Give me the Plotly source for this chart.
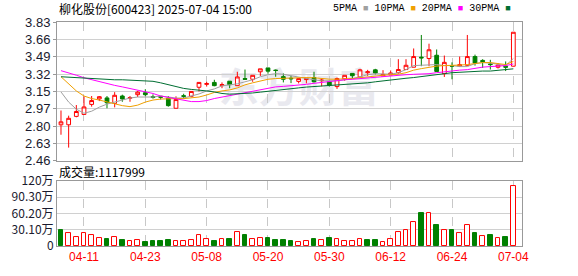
import plotly.graph_objects as go

dates = ["04-08","04-09","04-10","04-11","04-14","04-15","04-16","04-17","04-18","04-21",
         "04-22","04-23","04-24","04-25","04-28","04-29","04-30",
         "05-06","05-07","05-08","05-09","05-12","05-13","05-14","05-15","05-16","05-19",
         "05-20","05-21","05-22","05-23","05-26","05-27","05-28","05-29","05-30",
         "06-03","06-04","06-05","06-06","06-09","06-10","06-11","06-12","06-13","06-16",
         "06-17","06-18","06-19","06-20","06-23","06-24","06-25","06-26","06-27","06-30",
         "07-01","07-02","07-03","07-04"]

opens = [2.816,2.816,2.899,2.918,3.017,3.071,3.081,3.027,3.100,3.078,
         3.113,3.132,3.095,3.097,3.078,2.979,3.103,3.097,3.186,3.215,
         3.234,3.202,3.246,3.202,3.272,3.265,3.339,3.377,3.355,3.291,
         3.275,3.244,3.262,3.282,3.250,3.240,3.193,3.269,3.323,3.288,
         3.330,3.358,3.298,3.307,3.330,3.361,3.384,3.483,3.470,3.502,
         3.320,3.400,3.394,3.403,3.489,3.451,3.416,3.384,3.394,3.394]
highs = [2.957,2.906,3.011,3.097,3.100,3.100,3.100,3.138,3.113,3.100,
         3.151,3.167,3.116,3.100,3.100,3.097,3.122,3.145,3.234,3.240,
         3.260,3.234,3.246,3.339,3.361,3.304,3.368,3.377,3.361,3.323,
         3.300,3.272,3.282,3.339,3.272,3.250,3.282,3.304,3.323,3.368,
         3.358,3.368,3.355,3.352,3.463,3.463,3.569,3.702,3.616,3.559,
         3.499,3.432,3.489,3.702,3.508,3.463,3.457,3.425,3.441,3.729]
lows = [2.718,2.591,2.890,2.918,2.995,3.050,2.979,2.988,3.043,3.043,
        3.090,3.097,3.074,3.065,2.995,2.979,3.075,3.088,3.145,3.193,
        3.196,3.177,3.177,3.202,3.265,3.240,3.298,3.320,3.290,3.234,
        3.227,3.224,3.224,3.234,3.196,3.193,3.170,3.250,3.272,3.288,
        3.298,3.313,3.298,3.307,3.320,3.361,3.384,3.394,3.394,3.342,
        3.288,3.265,3.394,3.400,3.400,3.377,3.361,3.371,3.346,3.394]
closes = [2.845,2.880,2.947,2.992,3.055,3.093,3.033,3.107,3.071,3.084,
          3.138,3.113,3.086,3.088,3.005,3.065,3.097,3.145,3.234,3.222,
          3.202,3.212,3.212,3.288,3.265,3.304,3.368,3.345,3.352,3.265,
          3.270,3.272,3.272,3.240,3.256,3.205,3.272,3.304,3.300,3.358,
          3.339,3.327,3.313,3.327,3.361,3.403,3.489,3.476,3.556,3.342,
          3.432,3.394,3.409,3.489,3.425,3.438,3.410,3.406,3.384,3.729]

ma5 = [3.14,3.04,2.97,2.93,2.95,2.99,3.02,3.04,3.06,3.08,
       3.09,3.09,3.09,3.10,3.09,3.08,3.08,3.10,3.12,3.15,
       3.17,3.20,3.21,3.22,3.24,3.26,3.29,3.31,3.32,3.315,
       3.30,3.285,3.27,3.26,3.25,3.25,3.25,3.26,3.27,3.29,
       3.31,3.32,3.32,3.315,3.33,3.36,3.40,3.405,3.41,3.41,
       3.40,3.40,3.39,3.39,3.42,3.43,3.425,3.41,3.40,3.47]
ma10 = [3.29,3.22,3.15,3.10,3.075,3.06,3.04,3.02,3.005,2.995,
        3.01,3.04,3.06,3.07,3.074,3.074,3.074,3.08,3.09,3.11,
        3.135,3.15,3.16,3.18,3.21,3.23,3.25,3.265,3.272,3.276,
        3.28,3.282,3.282,3.28,3.27,3.266,3.266,3.266,3.272,3.28,
        3.29,3.30,3.305,3.31,3.315,3.33,3.355,3.37,3.385,3.395,
        3.40,3.40,3.405,3.41,3.42,3.43,3.43,3.42,3.41,3.44]
ma20 = [3.35,3.33,3.305,3.28,3.26,3.24,3.22,3.205,3.19,3.175,
        3.155,3.14,3.125,3.10,3.085,3.07,3.06,3.045,3.045,3.055,
        3.075,3.09,3.10,3.115,3.135,3.148,3.16,3.175,3.19,3.195,
        3.20,3.205,3.215,3.225,3.235,3.245,3.255,3.26,3.265,3.272,
        3.28,3.285,3.29,3.30,3.305,3.31,3.314,3.314,3.32,3.33,
        3.34,3.345,3.355,3.36,3.375,3.385,3.39,3.395,3.40,3.416]
ma30 = [3.29,3.285,3.28,3.275,3.27,3.27,3.265,3.26,3.26,3.255,
        3.25,3.25,3.245,3.23,3.21,3.19,3.175,3.165,3.16,3.15,
        3.14,3.125,3.118,3.12,3.125,3.13,3.138,3.145,3.152,3.16,
        3.17,3.18,3.188,3.193,3.197,3.20,3.205,3.21,3.215,3.22,
        3.23,3.24,3.25,3.258,3.266,3.275,3.282,3.29,3.30,3.31,
        3.32,3.33,3.335,3.338,3.343,3.346,3.346,3.355,3.362,3.368]

# volume in 万
volume = [29.3,24.1,16.4,23.5,21.2,14.1,12.9,16.4,11.1,10.0,
          11.1,7.6,9.4,9.4,11.1,10.0,10.0,11.1,20.2,13.4,
          9.4,12.9,12.9,26.5,20.5,12.9,14.7,14.7,11.1,11.1,
          9.4,7.0,9.4,12.9,11.1,14.7,12.9,9.4,9.4,12.9,
          11.1,11.1,7.0,12.9,26.5,28.8,44.1,60.5,60.5,39.4,
          28.8,30.5,23.5,39.4,23.5,18.2,19.9,14.7,16.4,111.7999]
vol_up = [0,1,1,1,1,1,0,1,0,1,
          1,0,0,0,0,1,1,1,1,1,
          0,1,0,1,0,1,1,0,0,0,
          0,1,1,0,1,0,1,1,1,1,
          0,0,1,1,1,1,1,0,1,0,
          1,0,1,1,0,1,0,1,0,1]

tick_labels = ["04-11","04-23","05-08","05-20","05-30","06-12","06-24","07-04"]
price_ticks = ["2.46","2.63","2.80","2.97","3.15","3.32","3.49","3.66","3.83"]
vol_ticks = ["0","30.10万","60.20万","90.30万","120万"]
vol_tickvals = [0, 30.1, 60.2, 90.3, 120.4]
ma_names = ["5PMA", "10PMA", "20PMA", "30PMA"]
ma_colors = ["#a0a0a0", "#f0a000", "#ff00ff", "#006e32"]

RED = "#ff0000"
GREEN = "#008000"
idx = list(range(len(dates)))

fig = go.Figure()

fig.add_trace(go.Candlestick(
    x=idx, open=opens, high=highs, low=lows, close=closes,
    xaxis="x2", yaxis="y",
    increasing=dict(line=dict(color=RED, width=1), fillcolor="white"),
    decreasing=dict(line=dict(color=GREEN, width=1), fillcolor=GREEN),
    whiskerwidth=0, showlegend=False, hoverinfo="skip"))

for vals, col in zip([ma5, ma10, ma20, ma30], ma_colors):
    fig.add_trace(go.Scatter(x=idx, y=vals, mode="lines", line=dict(color=col, width=1),
                             xaxis="x2", yaxis="y", showlegend=False, hoverinfo="skip"))

fig.add_trace(go.Bar(
    x=idx, y=volume, xaxis="x", yaxis="y2", width=0.62,
    marker=dict(color=["white" if u else GREEN for u in vol_up],
                line=dict(color=[RED if u else GREEN for u in vol_up], width=1)),
    showlegend=False, hoverinfo="skip"))

tickpos = [dates.index(t) for t in tick_labels]
pmin, pmax = float(price_ticks[0]), float(price_ticks[-1])
step = (pmax - pmin) / (len(price_ticks) - 1)
price_vals = [pmin + k * step for k in range(len(price_ticks))]

xrange = [-0.52, len(dates) + 0.13]
axis_common = dict(showline=True, linecolor="#999999", linewidth=1, mirror=True, zeroline=False)

legend_text = " ".join(
    f"{n} <span style='color:{c};font-size:9px'>■</span>" for n, c in zip(ma_names, ma_colors))

fig.update_layout(
    width=578, height=276,
    margin=dict(l=56, r=56, t=22, b=22),
    paper_bgcolor="white", plot_bgcolor="white",
    bargap=0,
    xaxis=dict(domain=[0, 1], anchor="y2", range=xrange, tickmode="array",
               tickvals=tickpos, ticktext=tick_labels, showgrid=True,
               gridcolor="#c8c8c8", griddash="dash", gridwidth=1,
               tickfont=dict(family="Liberation Sans", size=12, color=RED),
               ticks="", rangeslider=dict(visible=False), **axis_common),
    xaxis2=dict(domain=[0, 1], anchor="y", matches="x", range=xrange, tickmode="array",
                tickvals=tickpos, showticklabels=False, showgrid=True,
                gridcolor="#c8c8c8", griddash="dash", gridwidth=1,
                rangeslider=dict(visible=False), ticks="", **axis_common),
    yaxis=dict(domain=[0.38, 1], anchor="x2", range=[pmin, pmax], tickmode="array",
               tickvals=price_vals, ticktext=price_ticks, showgrid=True,
               gridcolor="#d0d0d0", ticks="outside", ticklen=3, tickcolor="#999999",
               tickfont=dict(family="Liberation Sans", size=13, color="#1a1a2e"), **axis_common),
    yaxis2=dict(domain=[0, 0.29], anchor="x", range=[0, 120.4], tickmode="array",
                tickvals=vol_tickvals, ticktext=vol_ticks, showgrid=True,
                gridcolor="#d0d0d0", ticks="",
                tickfont=dict(family="Noto Sans CJK SC", size=12, color="#1a1a2e"), **axis_common),
    shapes=[dict(type="rect", xref="paper", yref="paper", x0=0.27, x1=0.77, y0=0.594, y1=0.794,
                 line=dict(width=0), fillcolor="rgba(0,0,0,0)", layer="below",
                 label=dict(text="<b>东方财富</b>",
                            font=dict(family="Noto Sans CJK SC", size=40, color="#e9e9ef"),
                            textposition="middle center"))],
    annotations=[
        dict(text="柳化股份[600423] 2025-07-04 15:00", xref="paper", yref="paper",
             x=0, y=1.062, xanchor="left", yanchor="middle", showarrow=False,
             font=dict(family="Noto Sans CJK SC", size=12, color="#000000")),
        dict(text=legend_text,
             xref="paper", yref="paper", x=0.98, y=1.062, xanchor="right", yanchor="middle",
             showarrow=False, font=dict(family="Liberation Mono", size=10, color="#000000")),
        dict(text="成交量:1117999", xref="paper", yref="paper", x=0, y=0.333,
             xanchor="left", yanchor="middle", showarrow=False,
             font=dict(family="Noto Sans CJK SC", size=12, color="#000000")),
    ],
)

fig.write_html("out.html")
